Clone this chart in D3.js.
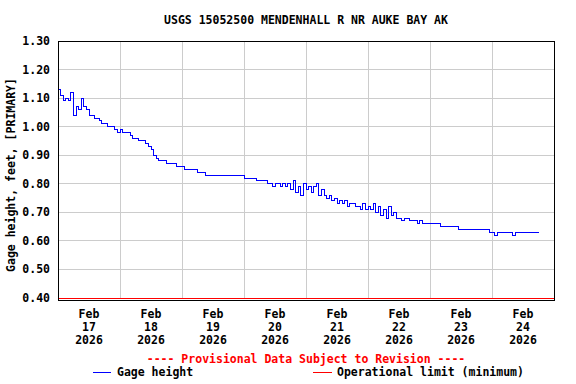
<!DOCTYPE html>
<html>
<head>
<meta charset="utf-8">
<script src="https://cdn.jsdelivr.net/npm/d3@7"></script>
<style>
  body { margin: 0; background: #fff; }
  svg text { font-family: "DejaVu Sans Mono", "Liberation Mono", monospace; font-weight: bold; font-size: 11.5px; }
  svg line, svg rect, svg path { shape-rendering: crispEdges; }
</style>
</head>
<body>
<svg width="576" height="384"></svg>
<script>
// gage height, hourly readings starting Feb 17 2026 00:00
let startDate = new Date(2026, 1, 17, 0, 0);
let gageHeight = [
  1.13, 1.11, 1.09, 1.10, 1.09, 1.12, 1.04, 1.07, 1.06, 1.10, 1.07, 1.06,
  1.04, 1.04, 1.03, 1.03, 1.02, 1.01, 1.01, 1.00, 1.00, 1.00, 0.99, 0.98,
  0.99, 0.98, 0.98, 0.98, 0.97, 0.96, 0.96, 0.95, 0.95, 0.95, 0.94, 0.93,
  0.92, 0.90, 0.89, 0.88, 0.88, 0.88, 0.87, 0.87, 0.87, 0.87, 0.86, 0.86,
  0.86, 0.85, 0.85, 0.85, 0.85, 0.85, 0.84, 0.84, 0.84, 0.83, 0.83, 0.83,
  0.83, 0.83, 0.83, 0.83, 0.83, 0.83, 0.83, 0.83, 0.83, 0.83, 0.83, 0.83,
  0.82, 0.82, 0.82, 0.82, 0.82, 0.81, 0.81, 0.81, 0.81, 0.80, 0.80, 0.79,
  0.80, 0.80, 0.79, 0.80, 0.79, 0.80, 0.78, 0.81, 0.77, 0.79, 0.76, 0.80,
  0.78, 0.79, 0.77, 0.79, 0.80, 0.76, 0.78, 0.76, 0.75, 0.76, 0.74, 0.75,
  0.73, 0.74, 0.73, 0.74, 0.72, 0.73, 0.73, 0.72, 0.72, 0.71, 0.73, 0.71,
  0.72, 0.71, 0.73, 0.70, 0.72, 0.69, 0.71, 0.68, 0.72, 0.69, 0.70, 0.68,
  0.68, 0.67, 0.68, 0.68, 0.67, 0.67, 0.67, 0.66, 0.67, 0.66, 0.66, 0.66,
  0.66, 0.66, 0.66, 0.66, 0.65, 0.65, 0.65, 0.65, 0.65, 0.65, 0.65, 0.64,
  0.64, 0.64, 0.64, 0.64, 0.64, 0.64, 0.64, 0.64, 0.64, 0.64, 0.64, 0.63,
  0.63, 0.62, 0.63, 0.63, 0.63, 0.63, 0.63, 0.63, 0.62, 0.63, 0.63, 0.63,
  0.63, 0.63, 0.63, 0.63, 0.63, 0.63, 0.63
];
let operationalLimit = 0.40;
let yTicks = [0.40, 0.50, 0.60, 0.70, 0.80, 0.90, 1.00, 1.10, 1.20, 1.30];
let dayLabels = [17, 18, 19, 20, 21, 22, 23, 24];

let data = gageHeight.map((v, i) => ({ t: d3.timeHour.offset(startDate, i), v: v }));

let plotLeft = 58, plotRight = 554, plotTop = 41, plotBottom = 298;

let svg = d3.select('svg');

let x = d3.scaleTime()
          .domain([startDate, new Date(2026, 1, 25, 0, 0)])
          .range([plotLeft, plotRight]);

let y = d3.scaleLinear()
          .domain([0.40, 1.30])
          .range([plotBottom, plotTop]);

// grid
svg.append('g')
   .selectAll('line')
   .data(yTicks)
   .enter()
   .append('line')
   .attr('x1', plotLeft).attr('x2', plotRight)
   .attr('y1', (d) => y(d)).attr('y2', (d) => y(d))
   .attr('stroke', '#cccccc');

let midnights = d3.timeDay.range(new Date(2026, 1, 18), new Date(2026, 1, 25));
svg.append('g')
   .selectAll('line')
   .data(midnights)
   .enter()
   .append('line')
   .attr('x1', (d) => x(d)).attr('x2', (d) => x(d))
   .attr('y1', plotTop).attr('y2', plotBottom)
   .attr('stroke', '#cccccc');

// operational limit
svg.append('line')
   .attr('x1', plotLeft).attr('x2', plotRight)
   .attr('y1', y(operationalLimit)).attr('y2', y(operationalLimit))
   .attr('stroke', '#ff0000')
   .attr('stroke-width', 1);

// gage line
let line = d3.line()
             .x((d) => x(d.t))
             .y((d) => y(d.v))
             .curve(d3.curveStepAfter);

svg.append('path')
   .datum(data)
   .attr('d', line)
   .attr('fill', 'none')
   .attr('stroke', '#0000ff')
   .attr('stroke-width', 1);

// frame
svg.append('rect')
   .attr('x', plotLeft).attr('y', plotTop)
   .attr('width', plotRight - plotLeft).attr('height', plotBottom - plotTop + 2)
   .attr('fill', 'none')
   .attr('stroke', '#000')
   .attr('stroke-width', 1);

// y tick labels
svg.append('g')
   .selectAll('text')
   .data(yTicks)
   .enter()
   .append('text')
   .attr('x', 50)
   .attr('y', (d) => y(d) + 4)
   .attr('text-anchor', 'end')
   .text((d) => d.toFixed(2));

// x labels at noon
let xl = svg.append('g')
            .selectAll('text')
            .data(dayLabels)
            .enter()
            .append('text')
            .attr('text-anchor', 'middle')
            .attr('transform', (d) => 'translate(' + x(new Date(2026, 1, d, 12)) + ',0)');
xl.append('tspan').attr('x', 0).attr('y', 318).text('Feb');
xl.append('tspan').attr('x', 0).attr('y', 331).text((d) => d);
xl.append('tspan').attr('x', 0).attr('y', 344).text('2026');

// titles
svg.append('text')
   .attr('x', 306).attr('y', 24)
   .attr('text-anchor', 'middle')
   .text('USGS 15052500 MENDENHALL R NR AUKE BAY AK');

svg.append('text')
   .attr('transform', 'translate(15,175) rotate(-90)')
   .attr('text-anchor', 'middle')
   .text('Gage height, feet, [PRIMARY]');

svg.append('text')
   .attr('x', 306).attr('y', 363)
   .attr('text-anchor', 'middle')
   .attr('fill', '#ff0000')
   .text('---- Provisional Data Subject to Revision ----');

// legend
svg.append('line')
   .attr('x1', 93).attr('x2', 111).attr('y1', 372).attr('y2', 372)
   .attr('stroke', '#0000ff');
svg.append('text').attr('x', 117).attr('y', 376).text('Gage height');
svg.append('line')
   .attr('x1', 313).attr('x2', 332).attr('y1', 372).attr('y2', 372)
   .attr('stroke', '#ff0000');
svg.append('text').attr('x', 337).attr('y', 376).text('Operational limit (minimum)');
</script>
</body>
</html>
